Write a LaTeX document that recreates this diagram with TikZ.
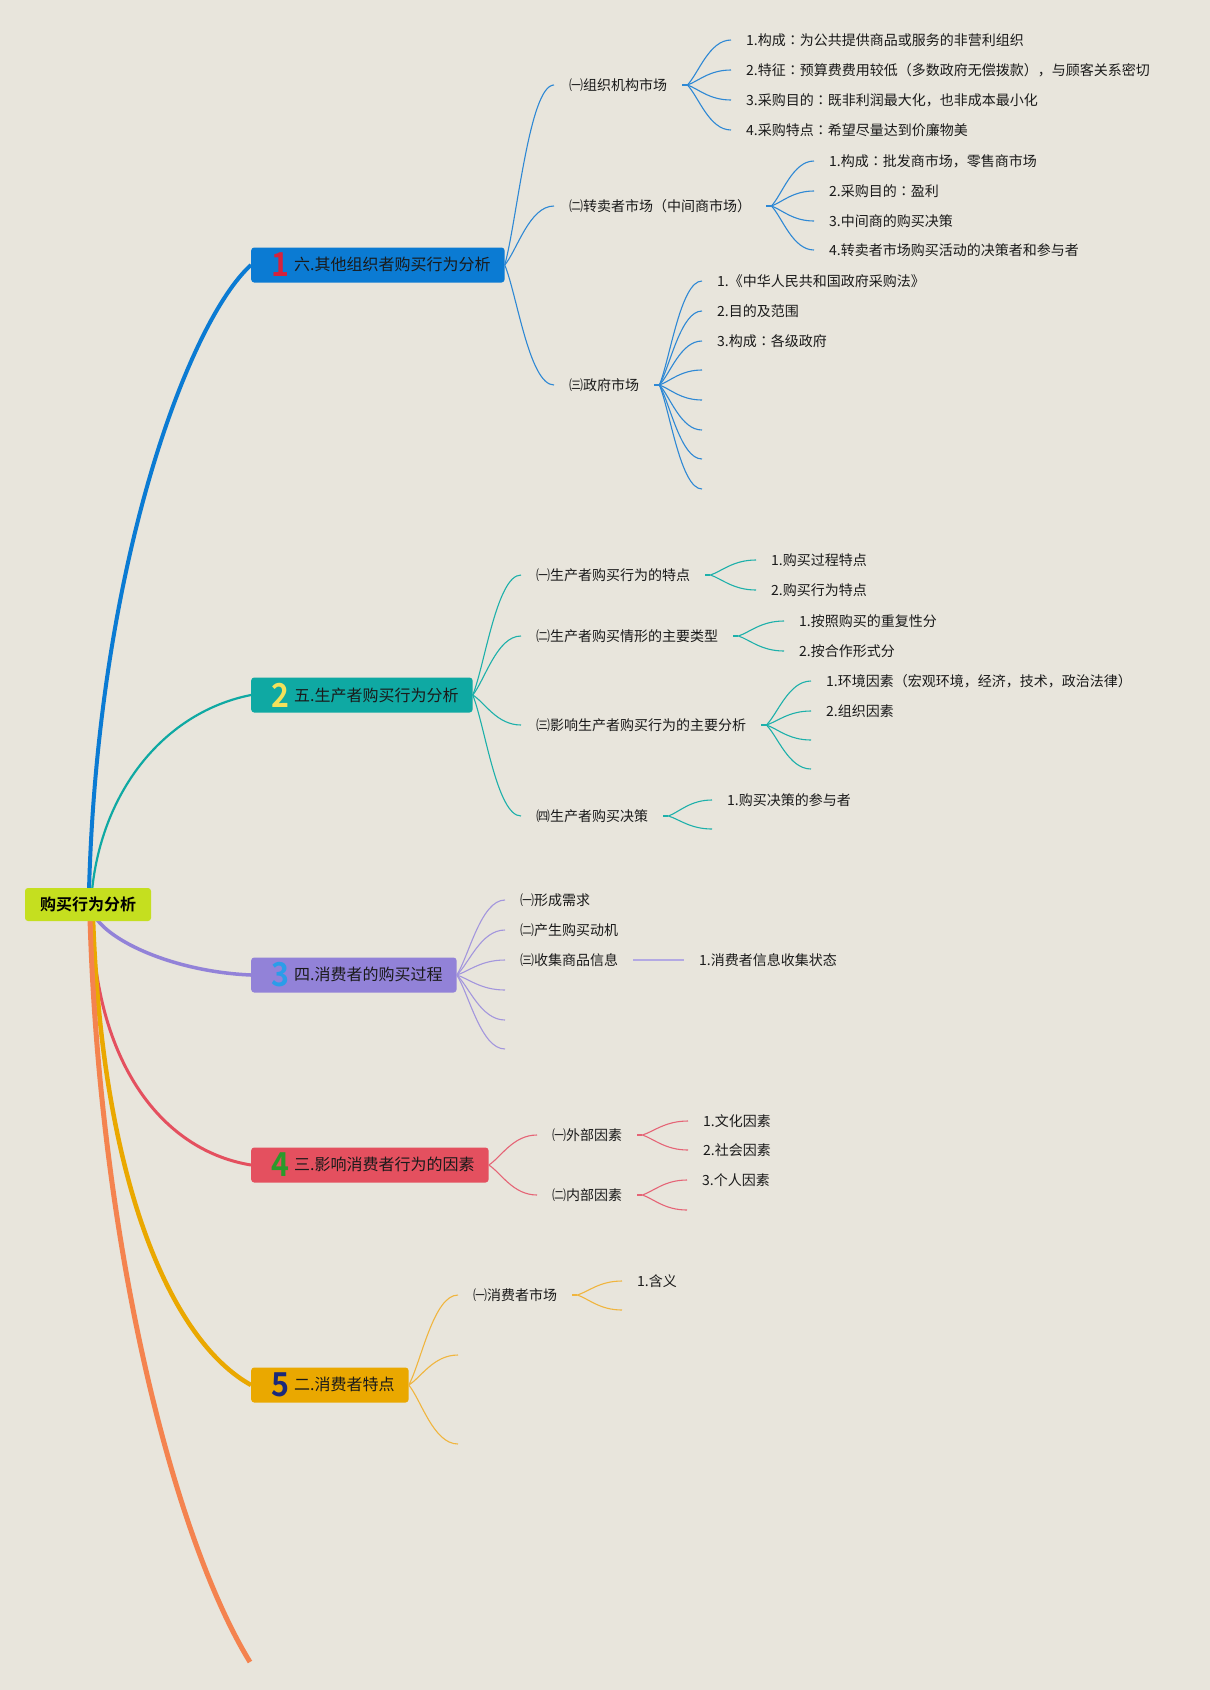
\documentclass[tikz,border=0pt]{standalone}
\usepackage{fontspec}
\setmainfont{Noto Sans CJK SC}[BoldFont={Noto Sans CJK SC Bold}]
\newfontfamily\tcfont{Noto Sans CJK TC}
\newcommand\cc{{\tcfont ：}}
\usetikzlibrary{calc}
\definecolor{bgc}{HTML}{E8E5DC}
\definecolor{txt}{HTML}{1A1A1A}
\definecolor{rootc}{HTML}{C5DF1F}
\definecolor{c1}{HTML}{0B7BD3}\definecolor{s1}{HTML}{2E88D4}
\definecolor{c2}{HTML}{0FA9A3}\definecolor{s2}{HTML}{1DB0AA}
\definecolor{c3}{HTML}{9282D8}\definecolor{s3}{HTML}{A396DD}\definecolor{s3b}{HTML}{B3A9E3}
\definecolor{c4}{HTML}{E4505F}\definecolor{s4}{HTML}{E56476}
\definecolor{c5}{HTML}{EAA800}\definecolor{s5}{HTML}{F0B53E}
\definecolor{c6}{HTML}{F4834F}
\definecolor{n1}{HTML}{D6223C}\definecolor{n2}{HTML}{F3E15B}\definecolor{n3}{HTML}{2A9DE9}
\definecolor{n4}{HTML}{2B9A2B}\definecolor{n5}{HTML}{1B2A7A}
\newcommand\bnum[2]{\raisebox{-6pt}{\scalebox{0.92}[1]{\fontsize{33}{33}\selectfont\bfseries\color{#1}#2}}}
\pgfdeclarelayer{bglayer}\pgfdeclarelayer{lines}
\pgfsetlayers{bglayer,lines,main}
\begin{document}
\begin{tikzpicture}[x=1pt,y=-1pt,
  every node/.style={font=\fontsize{14}{16}\selectfont, text=txt},
  sub/.style={inner xsep=15pt, inner ysep=3pt, anchor=west},
  rootbox/.style={fill=rootc, rounded corners=3pt, minimum width=126pt, minimum height=33pt, inner sep=0pt, font=\fontsize{16}{18}\selectfont\bfseries, text=black},
  branch/.style={anchor=west, inner xsep=0pt, inner ysep=0pt, minimum height=35pt, rounded corners=3pt, font=\fontsize{16}{18}\selectfont},
  conn/.style={line width=1.1pt, to path={.. controls ($(\tikztostart)!0.25!(\tikztotarget)$) and ($(\tikztostart|-\tikztotarget)!0.5!(\tikztotarget)$) .. (\tikztotarget) \tikztonodes}},
  stub/.style={line width=2.2pt},
]
\begin{pgfonlayer}{bglayer}
\fill[bgc] (0,0) rectangle (1210,1690);
\end{pgfonlayer}
\useasboundingbox (0,0) rectangle (1210,1690);

% root and main branches
\node[rootbox] (root) at (88,904.5) {购买行为分析};
\node[branch, fill=c1] (b1) at (251,265) {\hspace*{20pt}\bnum{n1}{1}\hspace*{5pt}六.其他组织者购买行为分析\hspace*{14pt}};
\node[branch, fill=c2] (b2) at (251,695) {\hspace*{20pt}\bnum{n2}{2}\hspace*{5pt}五.生产者购买行为分析\hspace*{14pt}};
\node[branch, fill=c3] (b3) at (251,975) {\hspace*{20pt}\bnum{n3}{3}\hspace*{5pt}四.消费者的购买过程\hspace*{14pt}};
\node[branch, fill=c4] (b4) at (251,1165) {\hspace*{20pt}\bnum{n4}{4}\hspace*{5pt}三.影响消费者行为的因素\hspace*{14pt}};
\node[branch, fill=c5] (b5) at (251,1385) {\hspace*{20pt}\bnum{n5}{5}\hspace*{5pt}二.消费者特点\hspace*{14pt}};
\coordinate (oend) at (250,1662);

\begin{pgfonlayer}{lines}
\draw[c1, line width=4pt] ([xshift=1pt,yshift=-3pt]root.north) .. controls (98,560) and (190,320) .. (b1.west);
\draw[c2, line width=2.2pt] ([xshift=4pt,yshift=-3pt]root.north) .. controls (102,790) and (165,712) .. (b2.west);
\draw[c3, line width=3.5pt] ([xshift=8pt,yshift=3pt]root.south) .. controls (115,945) and (180,972) .. (b3.west);
\draw[c4, line width=3pt] ([xshift=4pt,yshift=3pt]root.south) .. controls (95,1060) and (160,1150) .. (b4.west);
\draw[c5, line width=4.5pt] ([xshift=5pt,yshift=3pt]root.south) .. controls (102,1180) and (170,1340) .. (b5.west);
\draw[c6, line width=5pt] ([xshift=2pt,yshift=3pt]root.south) .. controls (100,1250) and (175,1540) .. (oend);
\end{pgfonlayer}

% ---------- branch 1 ----------
\node[sub] (c11) at (554,85) {㈠组织机构市场};
\node[sub] (c12) at (554,206) {㈡转卖者市场（中间商市场）};
\node[sub] (c13) at (554,385) {㈢政府市场};
\foreach \c in {c11,c12,c13} \draw[s1, conn] (b1.east) to (\c.west);

\node[sub] (l111) at (731,40) {1.构成\cc 为公共提供商品或服务的非营利组织};
\node[sub] (l112) at (731,70) {2.特征\cc 预算费费用较低（多数政府无偿拨款），与顾客关系密切};
\node[sub] (l113) at (731,100) {3.采购目的\cc 既非利润最大化，也非成本最小化};
\node[sub] (l114) at (731,130) {4.采购特点\cc 希望尽量达到价廉物美};
\coordinate (h11) at ([xshift=5pt]c11.east);
\draw[s1, stub] (c11.east) -- (h11);
\foreach \c in {l111,l112,l113,l114} \draw[s1, conn] (h11) to (\c.west);

\node[sub] (l121) at (814,161) {1.构成\cc 批发商市场，零售商市场};
\node[sub] (l122) at (814,191) {2.采购目的\cc 盈利};
\node[sub] (l123) at (814,221) {3.中间商的购买决策};
\node[sub] (l124) at (814,250) {4.转卖者市场购买活动的决策者和参与者};
\coordinate (h12) at ([xshift=5pt]c12.east);
\draw[s1, stub] (c12.east) -- (h12);
\foreach \c in {l121,l122,l123,l124} \draw[s1, conn] (h12) to (\c.west);

\node[sub] (l131) at (702,281) {1.《中华人民共和国政府采购法》};
\node[sub] (l132) at (702,311) {2.目的及范围};
\node[sub] (l133) at (702,341) {3.构成\cc 各级政府};
\coordinate (e134) at (702,370);
\coordinate (e135) at (702,400);
\coordinate (e136) at (702,430);
\coordinate (e137) at (702,459);
\coordinate (e138) at (702,489);
\coordinate (h13) at ([xshift=5pt]c13.east);
\draw[s1, stub] (c13.east) -- (h13);
\foreach \c in {l131.west,l132.west,l133.west,e134,e135,e136,e137,e138} \draw[s1, conn] (h13) to (\c);

% ---------- branch 2 ----------
\node[sub] (c21) at (521,575) {㈠生产者购买行为的特点};
\node[sub] (c22) at (521,636) {㈡生产者购买情形的主要类型};
\node[sub] (c23) at (521,725) {㈢影响生产者购买行为的主要分析};
\node[sub] (c24) at (521,816) {㈣生产者购买决策};
\foreach \c in {c21,c22,c23,c24} \draw[s2, conn] (b2.east) to (\c.west);

\node[sub] (l211) at (756,560) {1.购买过程特点};
\node[sub] (l212) at (756,590) {2.购买行为特点};
\coordinate (h21) at ([xshift=5pt]c21.east);
\draw[s2, stub] (c21.east) -- (h21);
\foreach \c in {l211,l212} \draw[s2, conn] (h21) to (\c.west);

\node[sub] (l221) at (784,621) {1.按照购买的重复性分};
\node[sub] (l222) at (784,651) {2.按合作形式分};
\coordinate (h22) at ([xshift=5pt]c22.east);
\draw[s2, stub] (c22.east) -- (h22);
\foreach \c in {l221,l222} \draw[s2, conn] (h22) to (\c.west);

\node[sub] (l231) at (811,681) {1.环境因素（宏观环境，经济，技术，政治法律）};
\node[sub] (l232) at (811,711) {2.组织因素};
\coordinate (e233) at (811,740);
\coordinate (e234) at (811,769);
\coordinate (h23) at ([xshift=5pt]c23.east);
\draw[s2, stub] (c23.east) -- (h23);
\foreach \c in {l231.west,l232.west,e233,e234} \draw[s2, conn] (h23) to (\c);

\node[sub] (l241) at (712,800) {1.购买决策的参与者};
\coordinate (e242) at (712,829);
\coordinate (h24) at ([xshift=5pt]c24.east);
\draw[s2, stub] (c24.east) -- (h24);
\foreach \c in {l241.west,e242} \draw[s2, conn] (h24) to (\c);

% ---------- branch 3 ----------
\node[sub] (c31) at (505,900) {㈠形成需求};
\node[sub] (c32) at (505,930) {㈡产生购买动机};
\node[sub] (c33) at (505,960) {㈢收集商品信息};
\coordinate (e34) at (505,990);
\coordinate (e35) at (505,1020);
\coordinate (e36) at (505,1049);
\foreach \c in {c31.west,c32.west,c33.west,e34,e35,e36} \draw[s3, conn] (b3.east) to (\c);
\node[sub] (l331) at (684,960) {1.消费者信息收集状态};
\draw[s3b, line width=2pt] (c33.east) -- (l331.west);

% ---------- branch 4 ----------
\node[sub] (c41) at (537,1135) {㈠外部因素};
\node[sub] (c42) at (537,1195) {㈡内部因素};
\foreach \c in {c41,c42} \draw[s4, conn] (b4.east) to (\c.west);

\node[sub] (l411) at (688,1121) {1.文化因素};
\node[sub] (l412) at (688,1150) {2.社会因素};
\coordinate (h41) at ([xshift=5pt]c41.east);
\draw[s4, stub] (c41.east) -- (h41);
\foreach \c in {l411,l412} \draw[s4, conn] (h41) to (\c.west);

\node[sub] (l421) at (687,1180) {3.个人因素};
\coordinate (e422) at (687,1210);
\coordinate (h42) at ([xshift=5pt]c42.east);
\draw[s4, stub] (c42.east) -- (h42);
\foreach \c in {l421.west,e422} \draw[s4, conn] (h42) to (\c);

% ---------- branch 5 ----------
\node[sub] (c51) at (458,1295) {㈠消费者市场};
\coordinate (e52) at (458,1355);
\coordinate (e53) at (458,1444);
\foreach \c in {c51.west,e52,e53} \draw[s5, conn] (b5.east) to (\c);

\node[sub] (l511) at (622,1281) {1.含义};
\coordinate (e512) at (622,1310);
\coordinate (h51) at ([xshift=5pt]c51.east);
\draw[s5, stub] (c51.east) -- (h51);
\foreach \c in {l511.west,e512} \draw[s5, conn] (h51) to (\c);
\end{tikzpicture}
\end{document}
